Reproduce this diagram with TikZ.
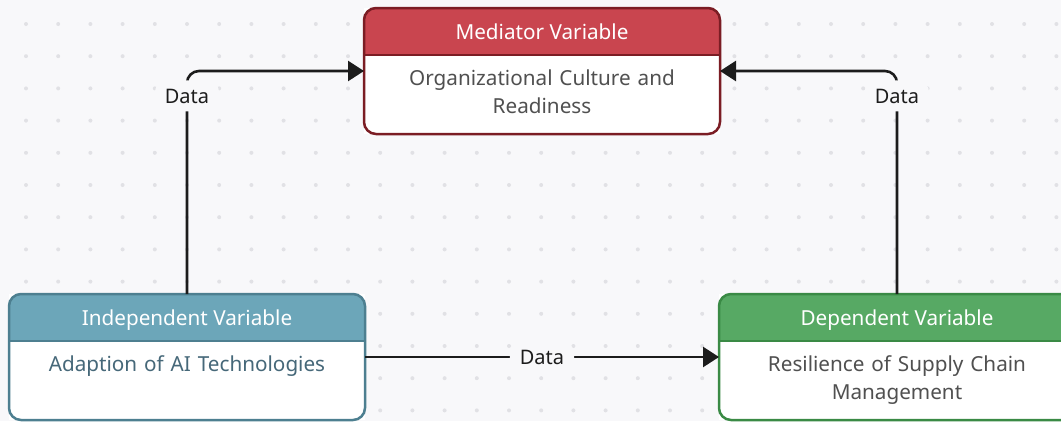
\documentclass[tikz,border=0pt]{standalone}
\usepackage{fontspec}
\setmainfont{Noto Sans}
\usetikzlibrary{arrows.meta,positioning}

\definecolor{canvas}{HTML}{F8F8FA}
\definecolor{griddot}{HTML}{E1E1E5}
\definecolor{wire}{HTML}{1C1C1C}
\definecolor{bodygray}{HTML}{505050}
\definecolor{medhead}{HTML}{C9454F}
\definecolor{mededge}{HTML}{7B1D24}
\definecolor{indhead}{HTML}{6CA6B9}
\definecolor{indedge}{HTML}{4D7F90}
\definecolor{indtext}{HTML}{466879}
\definecolor{dephead}{HTML}{57A964}
\definecolor{depedge}{HTML}{3A8A45}

\begin{document}
\begin{tikzpicture}
[x=1pt,y=-1pt,
varbox/.style={rectangle,fill=white,inner sep=0pt,outer sep=0pt,minimum width=356pt,minimum height=126pt},
title/.style={text=white,inner sep=0pt,minimum width=356pt,minimum height=47pt,text height=15pt,text depth=0pt,font=\fontsize{20.7}{25}\selectfont},
content/.style={inner sep=0pt,align=center,text width=340pt,font=\fontsize{20.7}{28}\selectfont},
connection/.style={line width=2.6pt,draw=wire,rounded corners=12pt,-{Triangle[length=16pt,width=20pt]}},
datalabel/.style={fill=canvas,text=wire,inner xsep=10pt,inner ysep=6pt,text height=17pt,text depth=2pt,font=\fontsize{20}{24}\selectfont}]

\clip (0,0) rectangle (1061,421);
\fill[canvas] (0,0) rectangle (1061,421);

% Drawing grid
\foreach \col in {0,...,32} {
	\foreach \row in {0,...,12} {
		\fill[griddot] (26+32.2*\col,24+32.2*\row) circle (2pt);
	}
}

% Drawing boxes
\node[varbox] (med) at (542,71) {};
\node[varbox] (indep) at (187,357) {};
\node[varbox] (dep) at (897,357) {};

\foreach \v/\tone/\edge in {med/medhead/mededge,indep/indhead/indedge,dep/dephead/depedge} {
	\begin{scope}
		\clip[rounded corners=12pt] (\v.north west) rectangle (\v.south east);
		\fill[\tone] (\v.north west) rectangle ([yshift=-47pt]\v.north east);
	\end{scope}
	\draw[\edge,line width=2.5pt] ([yshift=-47pt]\v.north west) -- ([yshift=-47pt]\v.north east);
	\draw[\edge,line width=2.5pt,rounded corners=12pt] (\v.north west) rectangle (\v.south east);
}

% Titles and contents
\node[title,below=0pt of med.north] (medtitle) {Mediator Variable};
\node[title,below=0pt of indep.north] (indeptitle) {Independent Variable};
\node[title,below=0pt of dep.north] (deptitle) {Dependent Variable};

\node[content,text=bodygray,below=14pt of medtitle] (medtext) {Organizational Culture and\\Readiness};
\node[content,text=indtext,below=14pt of indeptitle] (indeptext) {Adaption of AI Technologies};
\node[content,text=bodygray,below=14pt of deptitle] (deptext) {Resilience of Supply Chain\\Management};

% Drawing connections
\draw[connection] (indep.north) |- (med.west) node[datalabel,pos=0.444] (dataleft) {Data};
\draw[connection] (dep.north) |- (med.east) node[datalabel,pos=0.444] (dataright) {Data};
\draw[connection] (indep.east) -- (dep.west) node[datalabel,midway] (databottom) {Data};
\end{tikzpicture}
\end{document}
